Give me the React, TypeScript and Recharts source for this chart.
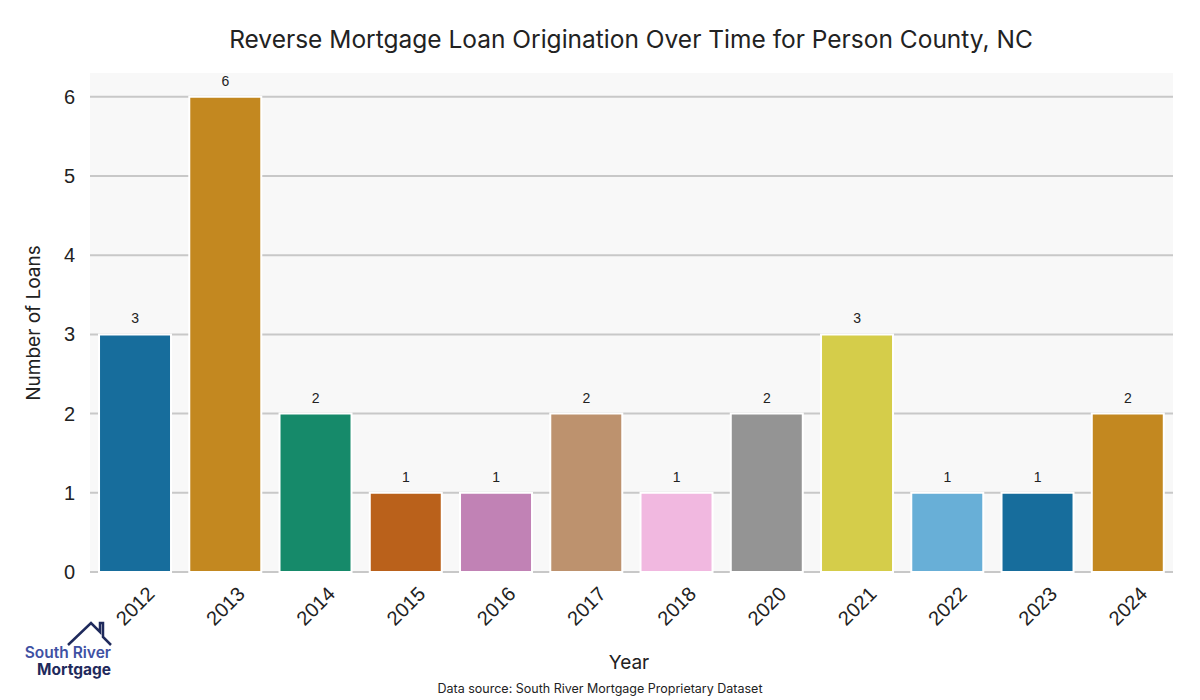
import React from 'react';
import { BarChart, Bar, XAxis, YAxis, CartesianGrid, Cell, LabelList } from 'recharts';

const years = ['2012', '2013', '2014', '2015', '2016', '2017', '2018', '2020', '2021', '2022', '2023', '2024'];
const loans = [3, 6, 2, 1, 1, 2, 1, 2, 3, 1, 1, 2];
const barColors = ['#176d9c', '#c38820', '#168a6a', '#ba611b', '#c182b5', '#bd926e', '#f1b8e0', '#949494', '#d5cd4a', '#68afd7', '#176d9c', '#c38820'];
const yTicks = [0, 1, 2, 3, 4, 5, 6];
const yMax = 6.3;

const data = years.map((y, i) => ({ year: y, loans: loans[i] }));

const SANS = 'Inter, "Noto Sans", sans-serif';
const TICKFONT = '"Liberation Sans", Arial, sans-serif';

const XTick = (props: any) => {
  const { x, payload } = props;
  const cy = 606;
  return (
    <text x={x} y={cy} transform={`rotate(-45, ${x}, ${cy})`} textAnchor="middle" dominantBaseline="central"
      fontSize={20} fontFamily={TICKFONT} fill="#222">
      {payload.value}
    </text>
  );
};

const hGen = (args: any) => {
  const { yAxis, offset } = args;
  if (yAxis && yAxis.scale && typeof yAxis.scale === 'function') {
    return yTicks.map((t) => yAxis.scale(t));
  }
  return yTicks.map((t) => offset.top + offset.height * (1 - t / yMax));
};

export default function App() {
  return (
    <div style={{ position: 'absolute', left: 0, top: 0, width: 1200, height: 700, background: '#fff' }}>
      <BarChart width={1200} height={700} data={data} margin={{ top: 73, right: 27, left: 0, bottom: 68 }} barCategoryGap="10%">
        <CartesianGrid vertical={false} fill="#f8f8f8" stroke="#c8c8c8" strokeWidth={2} horizontalCoordinatesGenerator={hGen} />
        <XAxis dataKey="year" axisLine={false} tickLine={false} height={60} tick={<XTick />} interval={0} />
        <YAxis width={90} domain={[0, yMax]} ticks={yTicks} axisLine={false} tickLine={false} tickMargin={9}
          tick={{ fontSize: 20, fontFamily: TICKFONT, fill: '#222' }} />
        <Bar dataKey="loans" stroke="#fff" strokeWidth={2} isAnimationActive={false}>
          {data.map((d, i) => (
            <Cell key={d.year} fill={barColors[i]} />
          ))}
          <LabelList dataKey="loans" position="top" offset={11} style={{ fontSize: 14, fontFamily: TICKFONT, fill: '#222' }} />
        </Bar>
      </BarChart>
      <svg width={1200} height={700} style={{ position: 'absolute', left: 0, top: 0, pointerEvents: 'none' }}>
        <text x={631} y={48} textAnchor="middle" fontSize={24.5} fontFamily={SANS} fill="#222">
          Reverse Mortgage Loan Origination Over Time for Person County, NC
        </text>
        <text x={0} y={0} transform="translate(40, 323) rotate(-90)" textAnchor="middle" fontSize={19} fontFamily={SANS} fill="#222">
          Number of Loans
        </text>
        <text x={629} y={669} textAnchor="middle" fontSize={19} fontFamily={SANS} fill="#222">Year</text>
        <text x={600} y={693} textAnchor="middle" fontSize={12.5} fontFamily={SANS} fill="#222">
          Data source: South River Mortgage Proprietary Dataset
        </text>
        <polyline points="68,645 91,623 100,632 100,623 103,623 103,637 111,645" fill="none" stroke="#1f2a5c" strokeWidth={2.5} strokeLinejoin="miter" />
        <text x={111} y={658} textAnchor="end" fontSize={15.5} fontWeight={600} fontFamily={SANS} fill="#3f51a3">South River</text>
        <text x={111} y={675} textAnchor="end" fontSize={15.5} fontWeight={700} fontFamily={SANS} fill="#1f2a5c">Mortgage</text>
      </svg>
    </div>
  );
}
